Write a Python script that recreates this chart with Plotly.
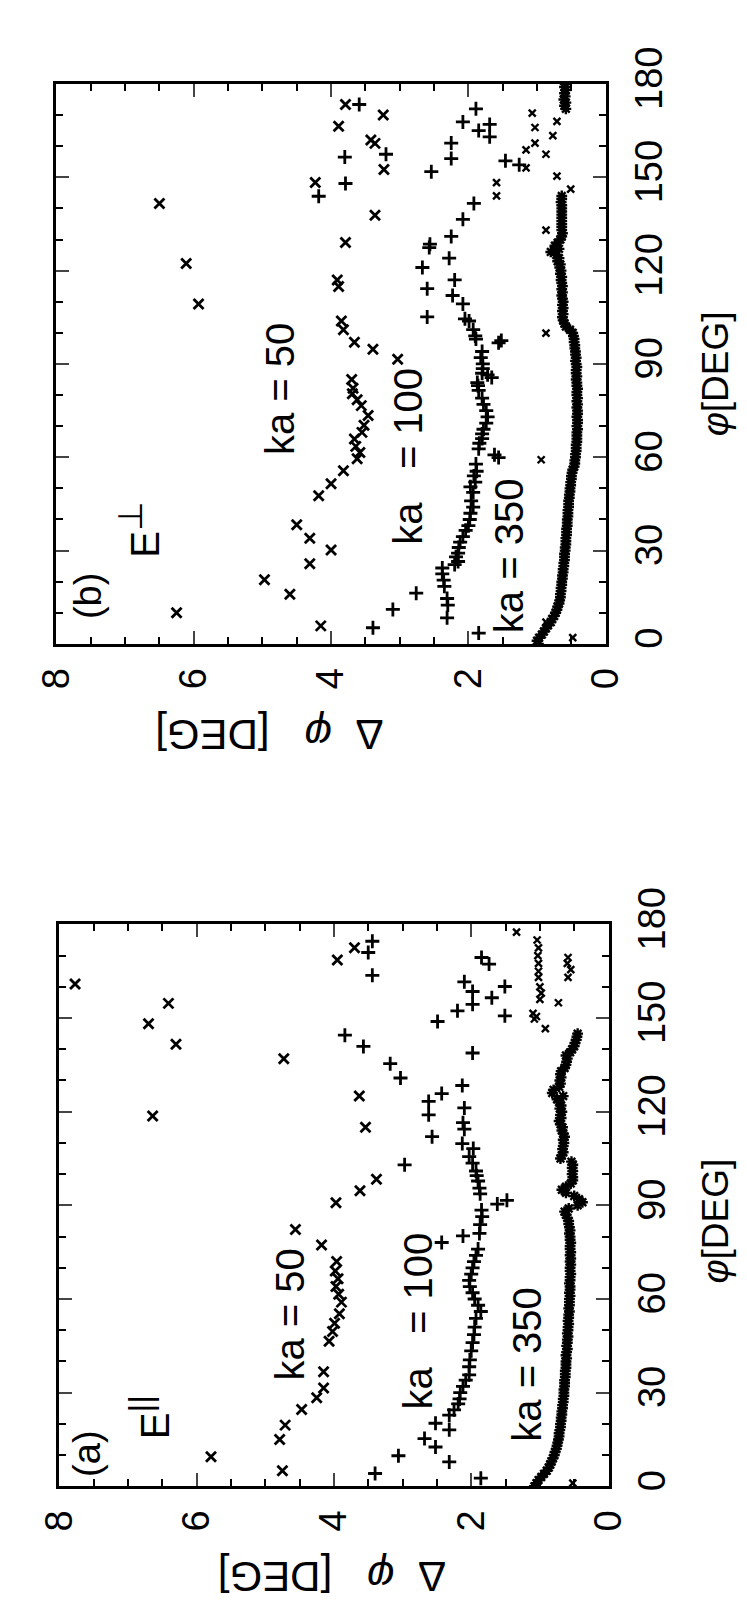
import plotly.graph_objects as go

# ---------------- Panel (a): E parallel ----------------
phi_a_ka50 = [5, 9.5, 15, 19.6, 24.6, 28.4, 31.5, 36.7, 46.5, 49.6, 52.2, 55.3, 59, 61.5, 64, 66.5, 69, 72,
              77.3, 82.3, 90.8, 94.7, 98.4, 115, 118.6, 125, 137, 141.6, 148.2, 154.7, 160.9, 168.6, 172.5]
dphi_a_ka50 = [4.75, 5.79, 4.79, 4.71, 4.47, 4.25, 4.15, 4.15, 4.07, 4.02, 3.99, 3.92, 3.89, 3.93, 3.97, 3.94, 3.98, 3.96,
               4.18, 4.56, 3.97, 3.62, 3.38, 3.54, 6.64, 3.63, 4.73, 6.3, 6.7, 6.41, 7.77, 3.95, 3.7]

phi_a_ka100 = [2.6, 4.1, 7.8, 9.8, 12.6, 15.3, 18.1, 20.2, 22.8, 24.5, 26.4, 28, 30, 32, 34, 35.7, 38.3, 40.5, 43.4, 46,
               48.6, 51, 53.8, 56, 58, 60, 62, 64, 66, 68, 70, 72, 74, 76, 78.1, 80.2, 81, 83.8, 86.4, 88.5, 90.4,
               91.6, 93.7, 95.5, 97.8, 99.5, 101, 103, 103.5, 105.6, 108.2, 109.8, 112, 114.4, 116.5, 119, 121.2,
               123.3, 125.8, 128.4, 130.8, 135.4, 138.8, 140.9, 144.5, 148.9, 150.7, 152.3, 154.4, 156.5, 158.5,
               160.1, 161.6, 163.7, 167.3, 169.4, 171, 174.6]
dphi_a_ka100 = [1.86, 3.4, 2.32, 3.06, 2.52, 2.68, 2.32, 2.52, 2.32, 2.25, 2.19, 2.17, 2.16, 2.12, 2.08, 2.03, 2.03, 2.02,
                2.0, 1.98, 1.96, 1.95, 1.93, 1.86, 1.9, 1.95, 1.98, 2.02, 2.03, 2.0, 1.98, 1.96, 1.93, 1.9, 2.43, 2.12,
                1.88, 1.87, 1.84, 1.85, 1.62, 1.48, 1.87, 1.88, 1.9, 1.92, 1.93, 2.97, 1.98, 2.03, 1.97, 2.13, 2.57,
                2.1, 2.12, 2.62, 2.1, 2.62, 2.43, 2.13, 3.03, 3.18, 1.98, 3.57, 3.84, 2.49, 1.51, 2.2, 1.98, 1.7,
                1.98, 1.51, 2.1, 3.44, 1.74, 1.85, 3.5, 3.44]

phi_a_ka350 = list(range(0, 146))
dphi_a_ka350 = [1.08, 1.05, 1.02, 0.98, 0.94, 0.90, 0.87, 0.85, 0.83, 0.81,
                0.79, 0.78, 0.76, 0.75, 0.74, 0.73, 0.72, 0.72, 0.71, 0.70,
                0.70, 0.69, 0.69, 0.68, 0.68, 0.67, 0.67, 0.66, 0.66, 0.65,
                0.65, 0.65, 0.64, 0.64, 0.64, 0.63, 0.63, 0.63, 0.62, 0.62,
                0.62, 0.61, 0.62, 0.61, 0.60, 0.61, 0.60, 0.60, 0.59, 0.60,
                0.59, 0.59, 0.58, 0.59, 0.58, 0.58, 0.57, 0.58, 0.57, 0.57,
                0.57, 0.56, 0.57, 0.56, 0.56, 0.57, 0.56, 0.56, 0.55, 0.56,
                0.56, 0.55, 0.56, 0.55, 0.56, 0.55, 0.56, 0.56, 0.55, 0.56,
                0.56, 0.57, 0.56, 0.57, 0.58, 0.58, 0.60, 0.62, 0.64, 0.58,
                0.45, 0.38, 0.43, 0.50, 0.62, 0.68, 0.62, 0.55, 0.52, 0.52,
                0.53, 0.52, 0.53, 0.52, 0.54, 0.70, 0.68, 0.66, 0.67, 0.66,
                0.65, 0.66, 0.64, 0.66, 0.68, 0.67, 0.70, 0.72, 0.69, 0.70,
                0.68, 0.71, 0.69, 0.72, 0.75, 0.66, 0.82, 0.80, 0.72, 0.70,
                0.71, 0.69, 0.70, 0.69, 0.64, 0.62, 0.61, 0.60, 0.62, 0.56,
                0.53, 0.50, 0.49, 0.47, 0.46, 0.45]
phi_a_ka350_sc = [1, 146.6, 149.7, 150.5, 151.5, 154.9, 156, 158, 160, 163, 165, 167.5, 170, 172.5, 175, 177.5,
                  163, 165.5, 167.5, 169.4]
dphi_a_ka350_sc = [0.52, 0.92, 1.08, 1.05, 1.1, 0.73, 1.0, 0.98, 1.0, 1.02, 1.02, 1.02, 1.03, 1.02, 1.04, 1.34,
                   0.59, 0.55, 0.6, 0.59]

# ---------------- Panel (b): E perpendicular ----------------
phi_b_ka50 = [5.8, 10, 16, 20.6, 25.8, 30.2, 34, 38.3, 47.6, 51.5, 55.7, 59.5, 61.5, 63.5, 65.9, 68, 70.3, 73.4,
              76.6, 78.5, 80.4, 82.2, 85, 91.5, 94.7, 97, 101, 103.8, 109.3, 114.9, 117, 122.3, 129, 137.8, 141.6,
              148.3, 152.5, 160.9, 162, 166.4, 170, 173.4]
dphi_b_ka50 = [4.15, 6.25, 4.6, 4.97, 4.31, 4.0, 4.31, 4.5, 4.18, 4.0, 3.82, 3.62, 3.58, 3.64, 3.66, 3.55, 3.52, 3.46,
               3.56, 3.62, 3.69, 3.68, 3.7, 3.03, 3.39, 3.66, 3.82, 3.85, 5.93, 3.89, 3.91, 6.11, 3.79, 3.36, 6.5,
               4.23, 3.23, 3.36, 3.42, 3.89, 3.24, 3.79]

phi_b_ka100 = [3.5, 5.2, 8.4, 11.1, 12.5, 14.6, 16.3, 18.5, 20.5, 22.5, 24.4, 25.5, 26.5, 28, 29.2, 31, 32.7, 34.5,
               36.5, 38, 40, 42, 44, 46, 48.7, 50.5, 52, 54, 55.5, 57.8, 59.9, 60.8, 62.7, 64.5, 66, 67.5, 69, 71,
               73, 75, 77, 79, 81.5, 83, 84, 85.6, 86.5, 87, 88.5, 90, 92, 94, 96.8, 97.5, 98, 99, 101, 103.8,
               104.5, 105.1, 109.3, 112, 114.2, 117, 121, 124, 127.4, 128.5, 131, 136.5, 141.6, 143.9, 148, 151.8,
               155.3, 154, 156, 156.5, 157.4, 161, 163, 165, 167, 167.8, 172, 173.4]
dphi_b_ka100 = [1.85, 3.39, 2.31, 3.1, 2.3, 2.31, 2.76, 2.35, 2.36, 2.38, 2.38, 2.2, 2.15, 2.18, 2.15, 2.14, 2.12, 2.08,
                2.04, 2.0, 1.98, 1.97, 1.93, 1.96, 1.93, 1.97, 1.9, 1.92, 1.88, 1.89, 1.56, 1.62, 1.85, 1.84, 1.8,
                1.8, 1.78, 1.74, 1.72, 1.74, 1.78, 1.8, 1.85, 1.86, 1.87, 1.66, 1.72, 1.8, 1.79, 1.79, 1.82, 1.8,
                1.56, 1.52, 1.89, 1.9, 1.93, 1.99, 2.05, 2.6, 2.08, 2.23, 2.6, 2.2, 2.67, 2.28, 2.57, 2.56, 2.25,
                2.08, 1.92, 4.18, 3.79, 2.54, 1.46, 1.26, 2.25, 3.8, 3.2, 2.25, 1.69, 1.85, 1.69, 2.08, 1.89, 3.59]

phi_b_ka350 = list(range(0, 145)) + [172, 173, 174, 175, 176, 177, 178, 179, 180]
dphi_b_ka350 = [0.98, 1.00, 0.97, 0.93, 0.90, 0.87, 0.84, 0.80, 0.78, 0.75,
                0.73, 0.71, 0.70, 0.68, 0.67, 0.66, 0.66, 0.65, 0.65, 0.64,
                0.64, 0.63, 0.63, 0.62, 0.62, 0.61, 0.61, 0.60, 0.60, 0.60,
                0.59, 0.59, 0.58, 0.58, 0.58, 0.57, 0.57, 0.57, 0.56, 0.56,
                0.56, 0.55, 0.55, 0.55, 0.54, 0.54, 0.54, 0.53, 0.53, 0.52,
                0.52, 0.51, 0.51, 0.50, 0.50, 0.49, 0.48, 0.46, 0.45, 0.45,
                0.44, 0.44, 0.43, 0.43, 0.43, 0.42, 0.42, 0.42, 0.42, 0.41,
                0.42, 0.41, 0.41, 0.42, 0.41, 0.41, 0.42, 0.41, 0.42, 0.41,
                0.42, 0.42, 0.41, 0.42, 0.42, 0.43, 0.42, 0.43, 0.43, 0.42,
                0.43, 0.44, 0.43, 0.44, 0.44, 0.45, 0.45, 0.46, 0.46, 0.47,
                0.48, 0.52, 0.58, 0.60, 0.62, 0.63, 0.62, 0.63, 0.62, 0.63,
                0.62, 0.63, 0.64, 0.63, 0.64, 0.63, 0.64, 0.65, 0.64, 0.66,
                0.65, 0.67, 0.66, 0.70, 0.68, 0.72, 0.80, 0.68, 0.74, 0.70,
                0.66, 0.64, 0.63, 0.64, 0.64, 0.64, 0.64, 0.64, 0.64, 0.64,
                0.64, 0.64, 0.65, 0.64, 0.64,
                0.58, 0.60, 0.58, 0.61, 0.59, 0.60, 0.58, 0.60, 0.59]
phi_b_ka350_sc = [2, 7, 59.2, 99.9, 133, 144, 146.2, 148.3, 150.4, 153, 157.4, 158.8, 161, 163.4, 166, 168, 170.6]
dphi_b_ka350_sc = [0.48, 0.87, 0.94, 0.87, 0.87, 1.59, 0.51, 1.59, 0.71, 1.16, 0.87, 1.16, 1.03, 0.77, 1.03, 0.71, 1.07]

dphi_ticks = [0, 2, 4, 6, 8]
phi_ticks = [0, 30, 60, 90, 120, 150, 180]

W, H = 747, 1607
FONT = "Liberation Sans, Arial, Helvetica, sans-serif"

fig = go.Figure()

def add_panel(xa, ya, p50, d50, p100, d100, p350, d350, psc, dsc):
    fig.add_trace(go.Scatter(x=d50, y=p50, mode="markers", xaxis=xa, yaxis=ya, showlegend=False,
                             marker=dict(symbol="x-thin", size=10, color="black",
                                         line=dict(width=2.8, color="black"))))
    fig.add_trace(go.Scatter(x=d100, y=p100, mode="markers", xaxis=xa, yaxis=ya, showlegend=False,
                             marker=dict(symbol="cross-thin", size=10, color="black",
                                         line=dict(width=2.8, color="black"))))
    fig.add_trace(go.Scatter(x=d350, y=p350, mode="markers", xaxis=xa, yaxis=ya, showlegend=False,
                             marker=dict(symbol="asterisk-open", size=9, color="black",
                                         line=dict(width=2.4, color="black"))))
    fig.add_trace(go.Scatter(x=dsc, y=psc, mode="markers", xaxis=xa, yaxis=ya, showlegend=False,
                             marker=dict(symbol="x-thin", size=7, color="black",
                                         line=dict(width=2.4, color="black"))))

add_panel("x", "y", phi_b_ka50, dphi_b_ka50, phi_b_ka100, dphi_b_ka100, phi_b_ka350, dphi_b_ka350,
          phi_b_ka350_sc, dphi_b_ka350_sc)
add_panel("x2", "y2", phi_a_ka50, dphi_a_ka50, phi_a_ka100, dphi_a_ka100, phi_a_ka350, dphi_a_ka350,
          phi_a_ka350_sc, dphi_a_ka350_sc)

TICKFONT = dict(size=38, family=FONT, color="black")

def xax(domain, anchor):
    return dict(domain=domain, anchor=anchor, range=[8, 0], tickvals=dphi_ticks, ticks="inside", ticklen=13,
                tickwidth=2.2, showline=True, linewidth=2.8, linecolor="black", mirror="ticks", showgrid=False,
                zeroline=False, tickangle=-90, tickfont=TICKFONT, ticklabelstandoff=6,
                minor=dict(dtick=0.5, ticks="inside", ticklen=7, tickwidth=2, tickcolor="black", showgrid=False))

def yax(domain, anchor):
    return dict(domain=domain, anchor=anchor, range=[0, 180], tickvals=phi_ticks, side="right", ticks="inside",
                ticklen=13, tickwidth=2.2, showline=True, linewidth=2.8, linecolor="black", mirror="ticks",
                showgrid=False, zeroline=False, tickangle=-90, tickfont=TICKFONT, ticklabelstandoff=8,
                minor=dict(dtick=10, ticks="inside", ticklen=7, tickwidth=2, tickcolor="black", showgrid=False))

bx0, bx1 = 28 / W, 610 / W
by0, by1 = 1 - 615 / H, 1 - 40 / H
ax0, ax1 = 31 / W, 613 / W
ay0, ay1 = 1 - 1480 / H, 1 - 903 / H

fig.update_layout(
    width=W, height=H, margin=dict(l=0, r=0, t=0, b=0),
    paper_bgcolor="white", plot_bgcolor="white",
    xaxis=xax([bx0, bx1], "y"), yaxis=yax([by0, by1], "x"),
    xaxis2=xax([ax0, ax1], "y2"), yaxis2=yax([ay0, ay1], "x2"),
)

def ann(x, y, text, xref, yref, size=40, angle=-90):
    fig.add_annotation(x=x, y=y, xref=xref, yref=yref, text=text, showarrow=False, textangle=angle,
                       xanchor="center", yanchor="middle", font=dict(size=size, family=FONT, color="black"))

# Panel (b) annotations
ann(7.55, 15.5, "(b)", "x", "y", size=38)
ann(6.8, 37, "E<sup><span style='font-size:34px'>⊥</span></sup>", "x", "y")
ann(4.74, 82, "ka = 50", "x", "y")
ann(2.88, 60.5, "ka\u00a0\u00a0 = 100", "x", "y")
ann(1.41, 28.5, "ka = 350", "x", "y")
# Panel (a) annotations
ann(7.6, 10.3, "(a)", "x2", "y2", size=38)
ann(6.7, 22, "E<sup><span style='font-size:34px'>||</span></sup>", "x2", "y2")
ann(4.64, 55, "ka = 50", "x2", "y2")
ann(2.78, 53, "ka\u00a0\u00a0 = 100", "x2", "y2")
ann(1.2, 39, "ka = 350", "x2", "y2")

# Axis titles (rotated as in the page)
def title(xp, yp, text, angle, size):
    fig.add_annotation(x=xp / W, y=1 - yp / H, xref="paper", yref="paper", text=text, showarrow=False,
                       textangle=angle, xanchor="center", yanchor="middle",
                       font=dict(size=size, family=FONT, color="black"))

title(726, 338, "<i>φ</i>[DEG]", -90, 37)
title(726, 1208, "<i>φ</i>[DEG]", -90, 37)
title(254, 708, "Δ\u00a0\u00a0<i>φ</i>\u00a0\u00a0\u00a0[DEG]", 180, 42)
title(320, 1572, "Δ\u00a0\u00a0<i>φ</i>\u00a0\u00a0\u00a0[DEG]", 180, 42)

fig.write_html("out.html")
